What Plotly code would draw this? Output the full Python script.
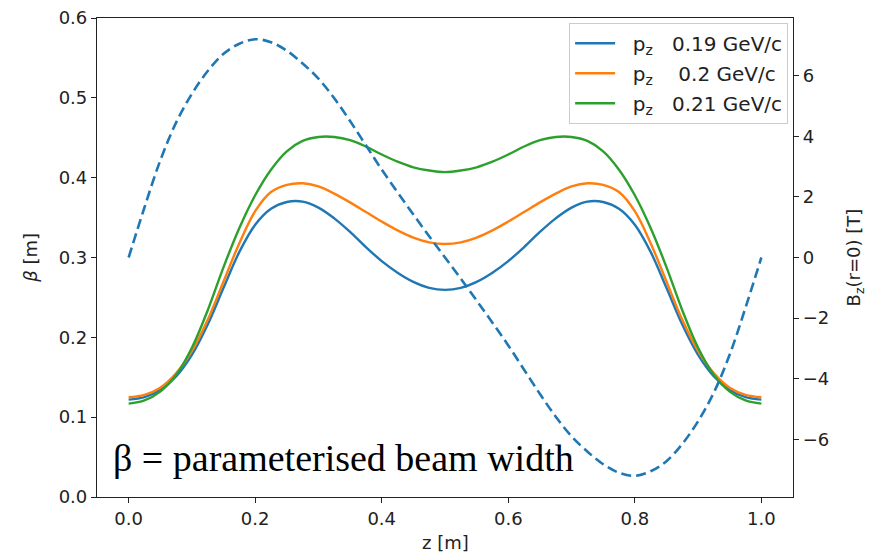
import plotly.graph_objects as go

z = [round(i * 0.025, 3) for i in range(41)]

beta_019 = [0.122, 0.125, 0.134, 0.151, 0.178, 0.216, 0.262, 0.307, 0.341, 0.361, 0.3695,
            0.370, 0.3625, 0.349, 0.332, 0.313, 0.2955, 0.281, 0.2695, 0.262, 0.2595,
            0.262, 0.2695, 0.281, 0.2955, 0.313, 0.332, 0.349, 0.3625, 0.370, 0.3695,
            0.361, 0.341, 0.307, 0.262, 0.216, 0.178, 0.151, 0.134, 0.125, 0.122]
beta_020 = [0.125, 0.128, 0.137, 0.155, 0.183, 0.222, 0.270, 0.318, 0.358, 0.382, 0.391,
            0.393, 0.389, 0.380, 0.369, 0.357, 0.345, 0.334, 0.325, 0.319, 0.317,
            0.319, 0.325, 0.334, 0.345, 0.357, 0.369, 0.380, 0.389, 0.393, 0.391,
            0.382, 0.358, 0.318, 0.270, 0.222, 0.183, 0.155, 0.137, 0.128, 0.125]
beta_021 = [0.117, 0.121, 0.132, 0.153, 0.187, 0.234, 0.288, 0.337, 0.378, 0.410, 0.433,
            0.446, 0.451, 0.451, 0.447, 0.439, 0.429, 0.420, 0.413, 0.409, 0.407,
            0.409, 0.413, 0.420, 0.429, 0.439, 0.447, 0.451, 0.451, 0.446, 0.433,
            0.410, 0.378, 0.337, 0.288, 0.234, 0.187, 0.153, 0.132, 0.121, 0.117]
bz = [0.0, 1.65, 3.2, 4.45, 5.4, 6.15, 6.72, 7.05, 7.2, 7.1, 6.82,
      6.4, 5.9, 5.25, 4.5, 3.7, 2.9, 2.15, 1.42, 0.7, 0.0,
      -0.7, -1.42, -2.15, -2.9, -3.7, -4.5, -5.25, -5.9, -6.4, -6.82,
      -7.1, -7.2, -7.05, -6.72, -6.15, -5.4, -4.45, -3.2, -1.65, 0.0]

labels = ["\u00a0\u00a0p<sub>z</sub>\u00a0\u00a0\u00a00.19 GeV/c",
          "\u00a0\u00a0p<sub>z</sub>\u00a0\u00a0\u00a0\u00a00.2 GeV/c",
          "\u00a0\u00a0p<sub>z</sub>\u00a0\u00a0\u00a00.21 GeV/c"]
colors = ["#1f77b4", "#ff7f0e", "#2ca02c"]

FONT = "DejaVu Sans"
TXT = "#222222"
FS = 18
LFS = 20

fig = go.Figure()
for i, (b, lab, c) in enumerate(zip([beta_019, beta_020, beta_021], labels, colors)):
    fig.add_trace(go.Scatter(x=z, y=b, mode="lines", name=lab, legendgroup=f"g{i}",
                             line=dict(color=c, width=2.4, shape="spline")))
fig.add_trace(go.Scatter(x=z, y=bz, mode="lines", yaxis="y2", showlegend=False,
                         line=dict(color="#1f77b4", width=2.6, dash="10px,5px", shape="spline")))

axis_common = dict(showgrid=False, zeroline=False, showline=True, linecolor="#222222",
                   linewidth=1.2, ticks="outside", ticklen=5, tickcolor="#222222",
                   automargin=False, ticklabeloverflow="allow",
                   tickfont=dict(family=FONT, size=FS, color=TXT))

fig.update_layout(
    width=865, height=546,
    margin=dict(l=89, r=80, t=10, b=57),
    paper_bgcolor="white", plot_bgcolor="white",
    font=dict(family=FONT, size=FS, color=TXT),
    xaxis=dict(range=[-0.05, 1.05], tickvals=[0, 0.2, 0.4, 0.6, 0.8, 1.0], tickformat=".1f",
               mirror=True, **axis_common),
    yaxis=dict(range=[0, 0.6], tickvals=[0, 0.1, 0.2, 0.3, 0.4, 0.5, 0.6], tickformat=".1f",
               **axis_common),
    yaxis2=dict(range=[-7.9, 7.9], overlaying="y", side="right",
                tickvals=[-6, -4, -2, 0, 2, 4, 6], **axis_common),
    legend=dict(x=0.993, y=0.99, xanchor="right", yanchor="top", itemwidth=40,
                bgcolor="rgba(255,255,255,0.85)", bordercolor="#cccccc", borderwidth=1,
                font=dict(family=FONT, size=LFS, color=TXT), tracegroupgap=1),
    annotations=[
        dict(text="z [m]", xref="paper", yref="paper", x=0.5, y=-0.096,
             xanchor="center", yanchor="middle", showarrow=False,
             font=dict(family=FONT, size=FS, color=TXT)),
        dict(text="<i>β</i> [m]", xref="paper", yref="paper", x=-0.096, y=0.5,
             xanchor="center", yanchor="middle", showarrow=False, textangle=-90,
             font=dict(family=FONT, size=FS, color=TXT)),
        dict(text="B<sub>z</sub>(r=0) [T]", xref="paper", yref="paper", x=1.089, y=0.5,
             xanchor="center", yanchor="middle", showarrow=False, textangle=-90,
             font=dict(family=FONT, size=FS, color=TXT)),
        dict(text="β = parameterised beam width", xref="paper", yref="paper",
             x=0.02, y=0.082, xanchor="left", yanchor="middle", showarrow=False,
             font=dict(family="Liberation Serif", size=38, color="black")),
    ],
)

fig.write_html("out.html")
